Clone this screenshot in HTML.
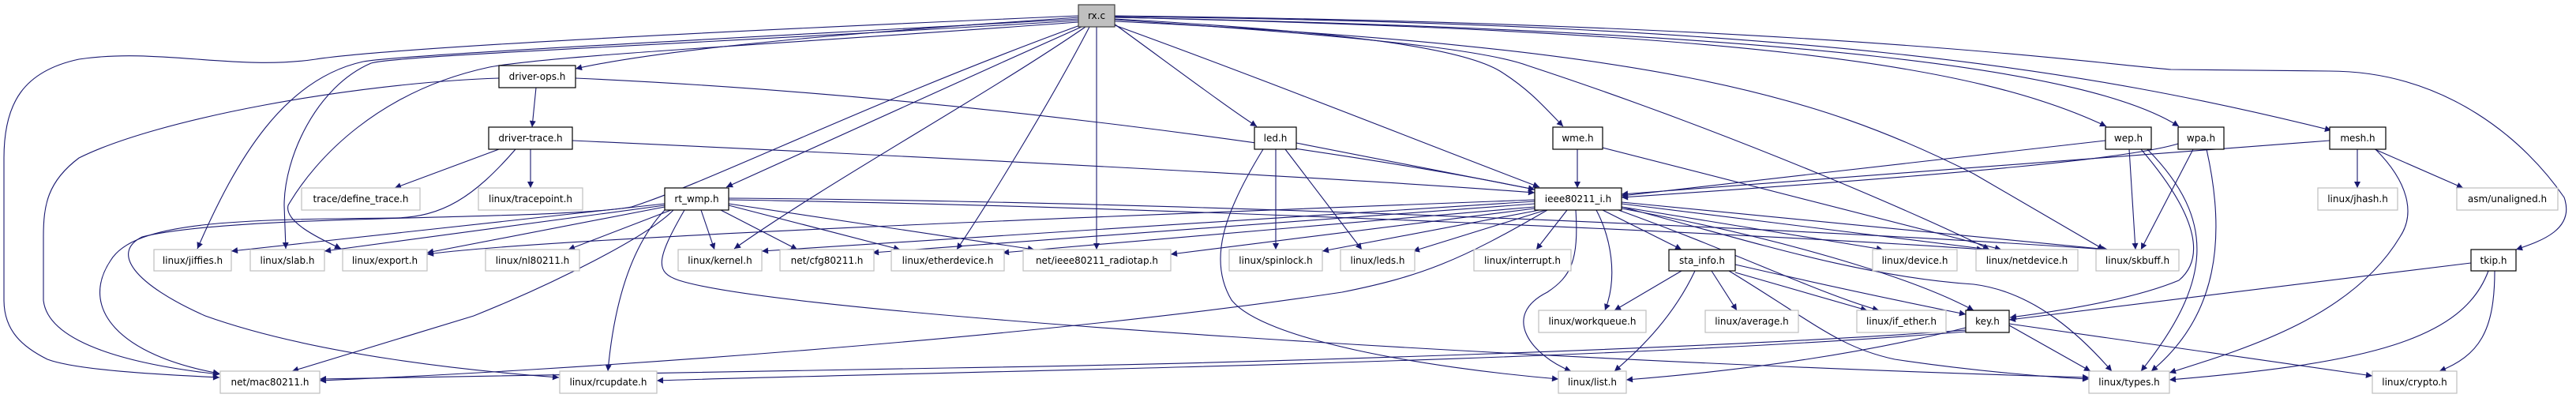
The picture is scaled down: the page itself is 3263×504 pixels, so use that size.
<!DOCTYPE html>
<html><head><meta charset="utf-8"><style>
html,body{margin:0;padding:0;background:#fff;}
svg{display:block;}
text{font-family:"DejaVu Sans","Liberation Sans",sans-serif;font-size:12px;text-anchor:middle;fill:#000;}
.e{fill:none;stroke:#191970;stroke-width:1.1;marker-end:url(#a);}
.n{fill:#fff;stroke:#000;stroke-width:1.2;}
.x{fill:#fff;stroke:#bfbfbf;stroke-width:1.2;}
</style></head><body>
<svg width="3263" height="504" viewBox="0 0 3263 504" xmlns="http://www.w3.org/2000/svg">
<defs><marker id="a" viewBox="0 0 10 10" refX="10" refY="5" markerUnits="userSpaceOnUse" markerWidth="10" markerHeight="8" orient="auto"><path d="M0,0 L10,5 L0,10 z" fill="#191970"/></marker></defs>
<g>
<path class="e" d="M1366,22 C1100,40 850,60 729,87"/>
<path class="e" d="M1366,20 C900,40 500,60 400,75 C300,90 200,60 100,75 C30,90 5,130 5,200 L5,380 C5,420 30,440 60,455 C100,470 220,475 278,478"/>
<path class="e" d="M1366,24 C900,50 500,70 460,78 C360,100 300,200 250,315"/>
<path class="e" d="M1366,26 C900,55 500,70 470,80 C400,110 360,200 360,260 L362,315"/>
<path class="e" d="M1366,28 C1000,55 700,70 620,85 C480,115 400,200 365,260 C360,280 400,300 432,315"/>
<path class="e" d="M1368,32 C1100,130 900,230 800,262 C700,280 300,270 180,300 C140,320 170,360 260,400 C400,450 600,470 708,478"/>
<path class="e" d="M1370,34 C1200,110 1000,200 920,237"/>
<path class="e" d="M1375,34 C1250,120 1050,230 930,315"/>
<path class="e" d="M1380,34 C1330,130 1250,260 1212,316"/>
<path class="e" d="M1389,34 L1389,316"/>
<path class="e" d="M1411,30 C1480,80 1560,140 1592,160"/>
<path class="e" d="M1412,32 C1600,100 1800,180 1950,237"/>
<path class="e" d="M1412,24 C1700,40 1850,60 1900,90 C1940,115 1960,140 1980,160"/>
<path class="e" d="M1412,22 C2200,40 2500,80 2668,160"/>
<path class="e" d="M1412,22 C2300,40 2650,90 2760,160"/>
<path class="e" d="M1412,21 C2300,30 2650,90 2953,165"/>
<path class="e" d="M1412,20 C2300,30 2650,80 2750,88 L2950,90 C3100,90 3200,180 3248,250 C3262,290 3220,305 3187,316"/>
<path class="e" d="M1412,25 C1800,50 1900,70 1935,83 C2200,170 2450,280 2520,316"/>
<path class="e" d="M1412,27 C2100,60 2300,120 2500,220 L2665,316"/>
<path class="e" d="M679,111 L674,161"/>
<path class="e" d="M632,99 C450,105 200,150 100,200 C60,230 55,260 55,300 L55,380 C60,430 150,460 278,474"/>
<path class="e" d="M729,99 C1200,120 1700,190 1944,240"/>
<path class="e" d="M632,189 L500,238"/>
<path class="e" d="M672,189 L672,238"/>
<path class="e" d="M653,189 C600,250 560,275 500,276 C300,278 170,280 140,330 C100,390 150,450 278,473"/>
<path class="e" d="M725,178 C1200,200 1700,225 1944,244"/>
<path class="e" d="M842,258 L293,318"/>
<path class="e" d="M842,260 L411,318"/>
<path class="e" d="M842,262 L541,320"/>
<path class="e" d="M850,266 L720,316"/>
<path class="e" d="M853,266 C820,300 700,360 600,400 L370,470"/>
<path class="e" d="M842,266 C810,300 780,360 770,470"/>
<path class="e" d="M888,266 L905,316"/>
<path class="e" d="M913,266 L1010,316"/>
<path class="e" d="M923,260 L1140,316"/>
<path class="e" d="M923,258 L1310,316"/>
<path class="e" d="M867,266 C830,330 830,345 860,355 C1000,400 2000,460 2646,478"/>
<path class="e" d="M923,251 C1500,255 2300,290 2668,316"/>
<path class="e" d="M923,253 C1500,262 2300,300 2512,316"/>
<path class="e" d="M1642,181 L1944,240"/>
<path class="e" d="M1616,189 L1616,316"/>
<path class="e" d="M1628,189 L1725,316"/>
<path class="e" d="M1600,189 C1550,270 1530,330 1560,380 C1600,430 1800,465 1974,480"/>
<path class="e" d="M1998,189 L1998,238"/>
<path class="e" d="M2030,187 L2535,316"/>
<path class="e" d="M1944,255 L965,318"/>
<path class="e" d="M1944,258 L1105,320"/>
<path class="e" d="M1944,262 L1270,320"/>
<path class="e" d="M1944,264 L1483,322"/>
<path class="e" d="M1950,266 L1675,318"/>
<path class="e" d="M1958,266 L1790,318"/>
<path class="e" d="M1985,266 L1946,316"/>
<path class="e" d="M2030,266 L2130,316"/>
<path class="e" d="M1996,266 C2000,330 1990,350 1960,370 C1900,400 1940,450 1990,470"/>
<path class="e" d="M2022,266 C2040,300 2050,350 2033,393"/>
<path class="e" d="M2054,262 L2385,316"/>
<path class="e" d="M2054,258 L2520,316"/>
<path class="e" d="M2054,256 L2670,316"/>
<path class="e" d="M2050,266 C2200,320 2300,370 2380,393"/>
<path class="e" d="M2054,264 C2250,300 2420,350 2500,393"/>
<path class="e" d="M2054,262 C2200,300 2350,350 2500,360 C2580,370 2640,430 2675,470"/>
<path class="e" d="M1960,266 C1850,330 1800,350 1700,370 C1300,430 700,470 405,482"/>
<path class="e" d="M1944,253 C1500,270 700,300 541,322"/>
<path class="e" d="M2130,343 L2045,393"/>
<path class="e" d="M2147,343 C2120,400 2080,440 2045,470"/>
<path class="e" d="M2168,343 L2200,393"/>
<path class="e" d="M2198,345 L2365,393"/>
<path class="e" d="M2198,335 C2350,370 2450,390 2490,398"/>
<path class="e" d="M2190,343 C2300,410 2330,440 2400,455 C2500,470 2600,478 2646,480"/>
<path class="e" d="M2490,415 C2350,450 2200,470 2060,481"/>
<path class="e" d="M2545,412 L2648,470"/>
<path class="e" d="M2545,410 L3005,476"/>
<path class="e" d="M2490,418 C2200,440 1600,460 1200,466 L405,480"/>
<path class="e" d="M2490,420 C2000,460 1200,470 832,482"/>
<path class="e" d="M2667,178 L2054,248"/>
<path class="e" d="M2697,189 L2705,316"/>
<path class="e" d="M2712,189 C2790,280 2790,330 2760,355 C2700,380 2600,395 2546,402"/>
<path class="e" d="M2720,189 C2810,280 2800,360 2712,470"/>
<path class="e" d="M2759,182 C2700,200 2500,220 2054,250"/>
<path class="e" d="M2778,189 L2712,316"/>
<path class="e" d="M2795,189 C2820,300 2810,400 2725,470"/>
<path class="e" d="M2951,178 L2054,246"/>
<path class="e" d="M2986,189 L2986,238"/>
<path class="e" d="M3008,189 L3120,238"/>
<path class="e" d="M3009,189 C3050,230 3060,270 3040,300 C2980,400 2850,440 2748,472"/>
<path class="e" d="M3130,333 L2545,405"/>
<path class="e" d="M3152,343 C3120,430 3000,460 2748,481"/>
<path class="e" d="M3160,343 C3160,420 3140,450 3090,470"/>
</g>
<g>
<rect x="1366" y="6" width="46" height="28" fill="#bfbfbf" stroke="#404040" stroke-width="1.2"/><text x="1389" y="24">rx.c</text>
<rect class="n" x="632" y="83" width="97" height="28"/><text x="680.5" y="101">driver-ops.h</text>
<rect class="n" x="619" y="161" width="106" height="28"/><text x="672" y="179">driver-trace.h</text>
<rect class="x" x="382" y="238" width="150" height="28"/><text x="457" y="256">trace/define_trace.h</text>
<rect class="x" x="606" y="238" width="132" height="28"/><text x="672" y="256">linux/tracepoint.h</text>
<rect class="x" x="195" y="316" width="98" height="27"/><text x="244" y="334">linux/jiffies.h</text>
<rect class="x" x="317" y="316" width="94" height="27"/><text x="364" y="334">linux/slab.h</text>
<rect class="x" x="434" y="316" width="107" height="27"/><text x="487.5" y="334">linux/export.h</text>
<rect class="x" x="615" y="316" width="119" height="27"/><text x="674.5" y="334">linux/nl80211.h</text>
<rect class="x" x="279" y="470" width="126" height="28"/><text x="342" y="488">net/mac80211.h</text>
<rect class="x" x="709" y="470" width="123" height="28"/><text x="770.5" y="488">linux/rcupdate.h</text>
<rect class="n" x="842" y="238" width="81" height="28"/><text x="882.5" y="256">rt_wmp.h</text>
<rect class="n" x="1589" y="161" width="53" height="28"/><text x="1615.5" y="179">led.h</text>
<rect class="x" x="859" y="316" width="106" height="27"/><text x="912" y="334">linux/kernel.h</text>
<rect class="x" x="988" y="316" width="119" height="27"/><text x="1047.5" y="334">net/cfg80211.h</text>
<rect class="x" x="1129" y="316" width="143" height="27"/><text x="1200.5" y="334">linux/etherdevice.h</text>
<rect class="x" x="1296" y="316" width="187" height="27"/><text x="1389.5" y="334">net/ieee80211_radiotap.h</text>
<rect class="x" x="1557" y="316" width="118" height="27"/><text x="1616" y="334">linux/spinlock.h</text>
<rect class="n" x="1967" y="161" width="63" height="28"/><text x="1998.5" y="179">wme.h</text>
<rect class="n" x="1944" y="238" width="110" height="28"/><text x="1999" y="256">ieee80211_i.h</text>
<rect class="x" x="1698" y="316" width="94" height="27"/><text x="1745" y="334">linux/leds.h</text>
<rect class="x" x="1867" y="316" width="123" height="27"/><text x="1928.5" y="334">linux/interrupt.h</text>
<rect class="n" x="2114" y="316" width="84" height="27"/><text x="2156" y="334">sta_info.h</text>
<rect class="x" x="2372" y="316" width="107" height="27"/><text x="2425.5" y="334">linux/device.h</text>
<rect class="x" x="1949" y="393" width="136" height="28"/><text x="2017" y="411">linux/workqueue.h</text>
<rect class="x" x="2160" y="393" width="118" height="28"/><text x="2219" y="411">linux/average.h</text>
<rect class="x" x="2352" y="393" width="113" height="28"/><text x="2408.5" y="411">linux/if_ether.h</text>
<rect class="x" x="1974" y="470" width="86" height="28"/><text x="2017" y="488">linux/list.h</text>
<rect class="n" x="2667" y="161" width="58" height="28"/><text x="2696" y="179">wep.h</text>
<rect class="n" x="2759" y="161" width="58" height="28"/><text x="2788" y="179">wpa.h</text>
<rect class="n" x="2951" y="161" width="71" height="28"/><text x="2986.5" y="179">mesh.h</text>
<rect class="x" x="2936" y="238" width="101" height="28"/><text x="2986.5" y="256">linux/jhash.h</text>
<rect class="x" x="3112" y="238" width="128" height="28"/><text x="3176" y="256">asm/unaligned.h</text>
<rect class="x" x="2503" y="316" width="129" height="27"/><text x="2567.5" y="334">linux/netdevice.h</text>
<rect class="x" x="2655" y="316" width="105" height="27"/><text x="2707.5" y="334">linux/skbuff.h</text>
<rect class="n" x="3130" y="316" width="57" height="27"/><text x="3158.5" y="334">tkip.h</text>
<rect class="n" x="2490" y="393" width="55" height="28"/><text x="2517.5" y="411">key.h</text>
<rect class="x" x="2646" y="470" width="102" height="28"/><text x="2697" y="488">linux/types.h</text>
<rect class="x" x="3005" y="470" width="107" height="28"/><text x="3058.5" y="488">linux/crypto.h</text>
</g>
</svg>
</body></html>
